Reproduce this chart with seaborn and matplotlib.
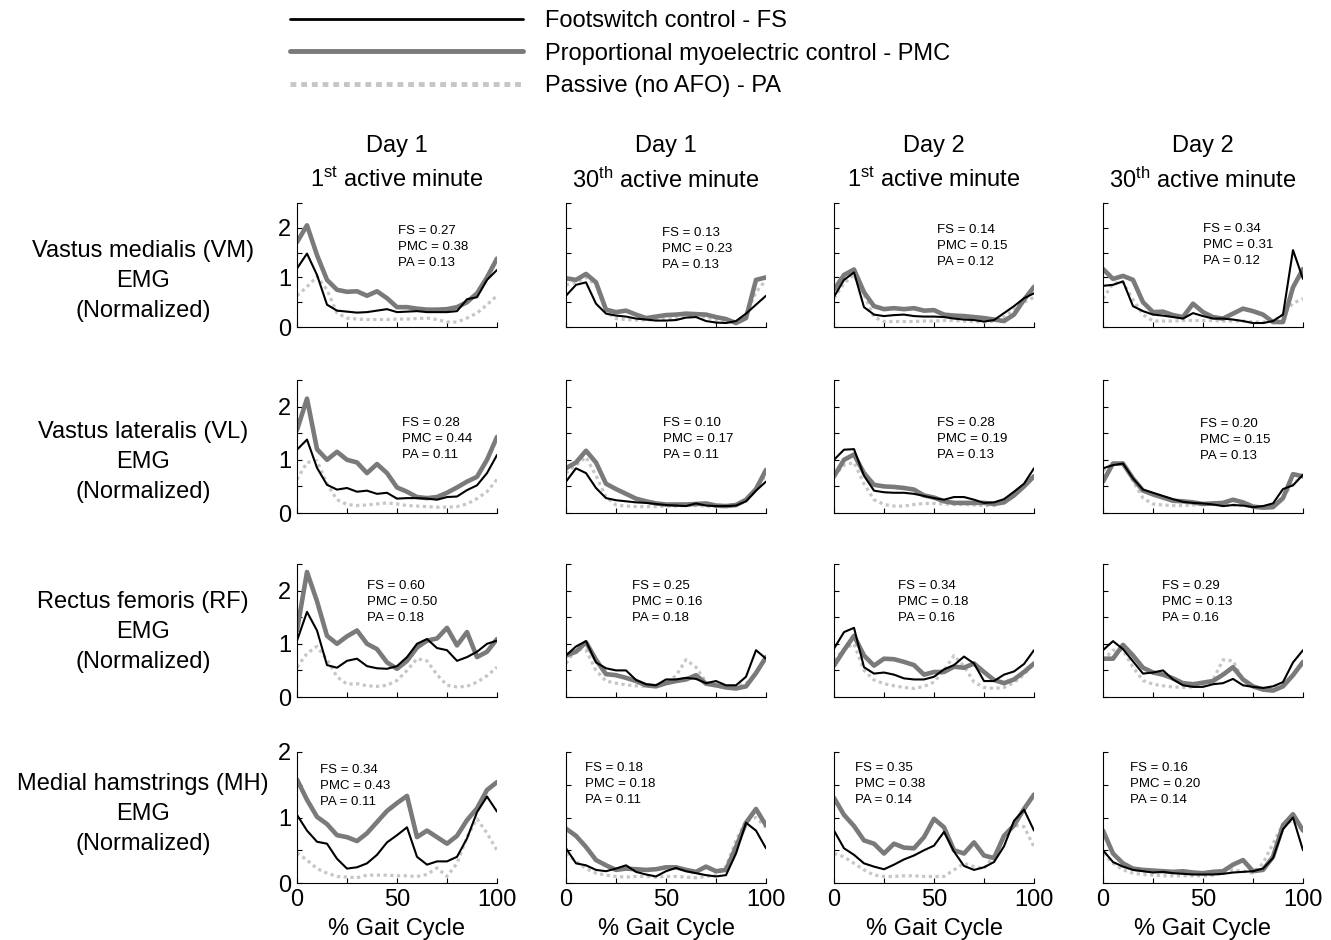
import numpy as np
import pandas as pd
import matplotlib
matplotlib.use('Agg')
import matplotlib.pyplot as plt
import seaborn as sns
from matplotlib.lines import Line2D
from matplotlib.transforms import offset_copy

sns.set_style('ticks')
plt.rcParams['font.family'] = ['Liberation Sans', 'DejaVu Sans']
plt.rcParams['mathtext.default'] = 'regular'
plt.rcParams['text.color'] = 'black'
plt.rcParams['axes.labelcolor'] = 'black'
plt.rcParams['xtick.color'] = 'black'
plt.rcParams['ytick.color'] = 'black'
plt.rcParams['axes.edgecolor'] = 'black'

# % gait cycle sample points
gait = list(range(0, 101, 5))

muscles = ['Vastus medialis (VM)', 'Vastus lateralis (VL)',
           'Rectus femoris (RF)', 'Medial hamstrings (MH)']
days = ['Day 1', 'Day 1', 'Day 2', 'Day 2']
minutes = ['1$^{st}$ active minute', '30$^{th}$ active minute',
           '1$^{st}$ active minute', '30$^{th}$ active minute']
legend_labels = ['Footswitch control - FS',
                 'Proportional myoelectric control - PMC',
                 'Passive (no AFO) - PA']

# normalized EMG, one list per session (D1 m1, D1 m30, D2 m1, D2 m30)
vm_fs = [
    [1.18, 1.48, 1.05, 0.45, 0.33, 0.31, 0.29, 0.30, 0.33, 0.36, 0.30, 0.31, 0.32, 0.30, 0.30, 0.30, 0.32, 0.56, 0.60, 0.95, 1.15],
    [0.63, 0.85, 0.90, 0.47, 0.27, 0.23, 0.21, 0.17, 0.15, 0.13, 0.13, 0.14, 0.19, 0.20, 0.12, 0.09, 0.08, 0.12, 0.27, 0.45, 0.63],
    [0.61, 0.95, 1.10, 0.40, 0.25, 0.22, 0.24, 0.25, 0.22, 0.21, 0.21, 0.20, 0.17, 0.15, 0.14, 0.11, 0.14, 0.28, 0.42, 0.58, 0.68],
    [0.83, 0.85, 0.92, 0.42, 0.32, 0.25, 0.23, 0.20, 0.17, 0.28, 0.22, 0.17, 0.17, 0.15, 0.12, 0.08, 0.08, 0.12, 0.25, 1.55, 0.97],
]
vm_pmc = [
    [1.71, 2.05, 1.45, 0.95, 0.75, 0.71, 0.72, 0.63, 0.72, 0.58, 0.40, 0.40, 0.37, 0.35, 0.35, 0.36, 0.40, 0.50, 0.68, 1.00, 1.38],
    [0.98, 0.95, 1.07, 0.90, 0.35, 0.30, 0.33, 0.25, 0.18, 0.21, 0.24, 0.25, 0.27, 0.26, 0.25, 0.20, 0.16, 0.08, 0.18, 0.95, 1.00],
    [0.75, 1.05, 1.16, 0.70, 0.42, 0.36, 0.38, 0.36, 0.38, 0.33, 0.34, 0.25, 0.23, 0.22, 0.20, 0.18, 0.15, 0.12, 0.25, 0.55, 0.81],
    [1.17, 0.97, 1.03, 0.95, 0.50, 0.30, 0.31, 0.24, 0.20, 0.47, 0.30, 0.20, 0.17, 0.27, 0.37, 0.32, 0.25, 0.10, 0.10, 0.80, 1.17],
]
vm_pa = [
    [0.63, 0.81, 1.02, 0.75, 0.28, 0.18, 0.16, 0.15, 0.15, 0.15, 0.16, 0.16, 0.17, 0.18, 0.15, 0.10, 0.10, 0.18, 0.28, 0.45, 0.63],
    [0.85, 0.90, 1.00, 0.85, 0.30, 0.17, 0.15, 0.14, 0.14, 0.15, 0.16, 0.17, 0.20, 0.22, 0.20, 0.15, 0.10, 0.10, 0.25, 0.70, 0.95],
    [0.58, 0.88, 1.05, 0.65, 0.20, 0.11, 0.11, 0.11, 0.11, 0.12, 0.12, 0.13, 0.13, 0.12, 0.11, 0.10, 0.12, 0.20, 0.35, 0.50, 0.60],
    [0.57, 0.88, 0.90, 0.55, 0.25, 0.12, 0.12, 0.12, 0.13, 0.13, 0.13, 0.13, 0.12, 0.12, 0.12, 0.10, 0.10, 0.12, 0.25, 0.48, 0.57],
]

vl_fs = [
    [1.19, 1.38, 0.85, 0.53, 0.44, 0.47, 0.40, 0.42, 0.36, 0.38, 0.27, 0.28, 0.28, 0.27, 0.25, 0.30, 0.31, 0.43, 0.52, 0.75, 1.09],
    [0.59, 0.84, 0.75, 0.47, 0.28, 0.24, 0.22, 0.20, 0.19, 0.17, 0.15, 0.14, 0.13, 0.18, 0.14, 0.13, 0.13, 0.14, 0.22, 0.42, 0.59],
    [1.00, 1.19, 1.20, 0.70, 0.42, 0.39, 0.38, 0.38, 0.36, 0.32, 0.28, 0.25, 0.30, 0.30, 0.25, 0.19, 0.20, 0.26, 0.40, 0.55, 0.84],
    [0.84, 0.90, 0.93, 0.65, 0.44, 0.38, 0.32, 0.26, 0.21, 0.19, 0.18, 0.16, 0.13, 0.15, 0.14, 0.11, 0.13, 0.18, 0.45, 0.52, 0.72],
]
vl_pmc = [
    [1.56, 2.15, 1.20, 1.00, 1.15, 1.00, 0.95, 0.75, 0.92, 0.75, 0.48, 0.40, 0.30, 0.28, 0.30, 0.38, 0.48, 0.59, 0.68, 1.00, 1.43],
    [0.84, 0.95, 1.17, 0.95, 0.55, 0.45, 0.36, 0.27, 0.22, 0.18, 0.16, 0.16, 0.16, 0.17, 0.18, 0.14, 0.13, 0.15, 0.25, 0.45, 0.81],
    [0.69, 1.00, 1.10, 0.75, 0.53, 0.50, 0.49, 0.47, 0.44, 0.33, 0.29, 0.22, 0.19, 0.19, 0.19, 0.19, 0.17, 0.20, 0.33, 0.50, 0.69],
    [0.59, 0.93, 0.93, 0.65, 0.42, 0.35, 0.29, 0.23, 0.22, 0.20, 0.17, 0.18, 0.19, 0.25, 0.20, 0.12, 0.10, 0.11, 0.28, 0.73, 0.69],
]
vl_pa = [
    [0.63, 0.95, 0.98, 0.55, 0.25, 0.16, 0.14, 0.15, 0.17, 0.19, 0.17, 0.14, 0.13, 0.12, 0.11, 0.11, 0.12, 0.17, 0.27, 0.40, 0.63],
    [0.75, 0.90, 1.05, 0.70, 0.30, 0.15, 0.13, 0.12, 0.12, 0.12, 0.13, 0.13, 0.14, 0.14, 0.13, 0.12, 0.12, 0.14, 0.22, 0.45, 0.72],
    [0.69, 0.90, 0.95, 0.55, 0.25, 0.16, 0.13, 0.13, 0.16, 0.18, 0.18, 0.17, 0.16, 0.16, 0.15, 0.14, 0.14, 0.20, 0.35, 0.55, 0.70],
    [0.80, 0.93, 0.95, 0.60, 0.28, 0.17, 0.15, 0.14, 0.14, 0.15, 0.16, 0.16, 0.15, 0.15, 0.14, 0.12, 0.12, 0.15, 0.30, 0.55, 0.70],
]

rf_fs = [
    [1.06, 1.60, 1.25, 0.60, 0.55, 0.68, 0.72, 0.58, 0.54, 0.53, 0.58, 0.75, 1.00, 1.09, 0.92, 0.88, 0.68, 0.75, 0.85, 1.00, 1.06],
    [0.78, 0.95, 1.05, 0.65, 0.54, 0.50, 0.50, 0.32, 0.24, 0.22, 0.33, 0.33, 0.36, 0.34, 0.26, 0.30, 0.22, 0.22, 0.38, 0.88, 0.72],
    [0.91, 1.22, 1.30, 0.56, 0.44, 0.46, 0.42, 0.35, 0.33, 0.33, 0.38, 0.52, 0.60, 0.76, 0.63, 0.30, 0.30, 0.42, 0.48, 0.62, 0.88],
    [0.88, 1.05, 0.90, 0.67, 0.44, 0.46, 0.50, 0.33, 0.22, 0.19, 0.19, 0.24, 0.26, 0.34, 0.22, 0.19, 0.17, 0.20, 0.28, 0.65, 0.88],
]
rf_pmc = [
    [1.25, 2.35, 1.80, 1.15, 1.00, 1.14, 1.25, 1.00, 0.90, 0.65, 0.53, 0.68, 0.93, 1.06, 1.10, 1.30, 0.97, 1.22, 0.75, 0.85, 1.09],
    [0.78, 0.85, 1.03, 0.70, 0.43, 0.41, 0.36, 0.30, 0.22, 0.20, 0.26, 0.30, 0.33, 0.41, 0.25, 0.22, 0.18, 0.16, 0.20, 0.45, 0.75],
    [0.59, 0.88, 1.15, 0.78, 0.59, 0.72, 0.71, 0.66, 0.60, 0.42, 0.47, 0.47, 0.57, 0.55, 0.63, 0.47, 0.32, 0.26, 0.33, 0.47, 0.63],
    [0.72, 0.72, 0.98, 0.78, 0.55, 0.46, 0.42, 0.35, 0.26, 0.24, 0.27, 0.30, 0.42, 0.56, 0.33, 0.20, 0.14, 0.12, 0.20, 0.41, 0.66],
]
rf_pa = [
    [0.56, 0.82, 0.95, 0.70, 0.38, 0.24, 0.25, 0.21, 0.20, 0.22, 0.31, 0.50, 0.72, 0.68, 0.42, 0.22, 0.19, 0.20, 0.28, 0.40, 0.56],
    [0.63, 0.90, 0.88, 0.50, 0.30, 0.26, 0.23, 0.21, 0.20, 0.22, 0.26, 0.40, 0.70, 0.56, 0.28, 0.20, 0.19, 0.20, 0.25, 0.44, 0.72],
    [0.69, 0.90, 1.00, 0.50, 0.32, 0.25, 0.21, 0.18, 0.16, 0.20, 0.28, 0.50, 0.78, 0.58, 0.28, 0.18, 0.16, 0.18, 0.27, 0.42, 0.63],
    [0.69, 0.88, 0.88, 0.56, 0.31, 0.24, 0.21, 0.19, 0.18, 0.19, 0.22, 0.32, 0.70, 0.68, 0.32, 0.19, 0.16, 0.17, 0.25, 0.42, 0.63],
]

mh_fs = [
    [1.04, 0.80, 0.63, 0.60, 0.37, 0.22, 0.24, 0.30, 0.43, 0.62, 0.73, 0.85, 0.40, 0.28, 0.33, 0.33, 0.40, 0.68, 1.08, 1.32, 1.09],
    [0.53, 0.30, 0.27, 0.20, 0.18, 0.22, 0.27, 0.17, 0.13, 0.10, 0.18, 0.23, 0.18, 0.15, 0.12, 0.10, 0.12, 0.45, 0.92, 0.80, 0.53],
    [0.80, 0.53, 0.43, 0.30, 0.25, 0.21, 0.28, 0.36, 0.42, 0.50, 0.57, 0.78, 0.48, 0.26, 0.20, 0.24, 0.32, 0.56, 0.95, 1.12, 0.80],
    [0.50, 0.32, 0.25, 0.20, 0.18, 0.16, 0.17, 0.15, 0.14, 0.13, 0.13, 0.13, 0.14, 0.16, 0.17, 0.18, 0.22, 0.38, 0.82, 1.00, 0.50],
]
mh_pmc = [
    [1.58, 1.27, 1.01, 0.90, 0.73, 0.70, 0.64, 0.76, 0.93, 1.10, 1.22, 1.33, 0.70, 0.80, 0.70, 0.60, 0.72, 0.96, 1.14, 1.42, 1.54],
    [0.83, 0.72, 0.55, 0.35, 0.27, 0.20, 0.22, 0.21, 0.20, 0.21, 0.24, 0.24, 0.20, 0.17, 0.25, 0.18, 0.20, 0.55, 0.92, 1.13, 0.88],
    [1.30, 1.04, 0.87, 0.65, 0.60, 0.45, 0.60, 0.54, 0.53, 0.70, 0.98, 0.85, 0.50, 0.45, 0.62, 0.42, 0.38, 0.72, 0.88, 1.13, 1.35],
    [0.80, 0.45, 0.30, 0.22, 0.20, 0.19, 0.18, 0.17, 0.18, 0.16, 0.15, 0.17, 0.18, 0.28, 0.35, 0.18, 0.20, 0.40, 0.88, 1.05, 0.80],
]
mh_pa = [
    [0.46, 0.35, 0.22, 0.15, 0.10, 0.09, 0.08, 0.12, 0.12, 0.12, 0.11, 0.11, 0.10, 0.13, 0.23, 0.10, 0.30, 0.70, 0.98, 0.76, 0.50],
    [0.45, 0.33, 0.22, 0.15, 0.12, 0.10, 0.09, 0.10, 0.10, 0.09, 0.10, 0.10, 0.09, 0.08, 0.10, 0.12, 0.25, 0.65, 0.95, 1.00, 0.85],
    [0.45, 0.40, 0.30, 0.20, 0.12, 0.10, 0.10, 0.11, 0.11, 0.10, 0.10, 0.10, 0.20, 0.30, 0.25, 0.22, 0.42, 0.68, 0.88, 0.86, 0.55],
    [0.45, 0.30, 0.20, 0.15, 0.13, 0.12, 0.11, 0.11, 0.11, 0.11, 0.11, 0.12, 0.15, 0.20, 0.18, 0.15, 0.30, 0.60, 0.90, 0.95, 0.80],
]

# correlation values printed in each panel (FS, PMC, PA)
vm_r = [(0.27, 0.38, 0.13), (0.13, 0.23, 0.13), (0.14, 0.15, 0.12), (0.34, 0.31, 0.12)]
vl_r = [(0.28, 0.44, 0.11), (0.10, 0.17, 0.11), (0.28, 0.19, 0.13), (0.20, 0.15, 0.13)]
rf_r = [(0.60, 0.50, 0.18), (0.25, 0.16, 0.18), (0.34, 0.18, 0.16), (0.29, 0.13, 0.16)]
mh_r = [(0.34, 0.43, 0.11), (0.18, 0.18, 0.11), (0.35, 0.38, 0.14), (0.16, 0.20, 0.14)]

fs_all = [vm_fs, vl_fs, rf_fs, mh_fs]
pmc_all = [vm_pmc, vl_pmc, rf_pmc, mh_pmc]
pa_all = [vm_pa, vl_pa, rf_pa, mh_pa]
r_all = [vm_r, vl_r, rf_r, mh_r]

# where the first line of each r-value block sits (data coords)
ann_pos = [
    [(50.6, 1.95), (48, 1.91), (51.5, 1.97), (50, 2.0)],
    [(52.6, 1.71), (48.6, 1.71), (51.5, 1.71), (48.6, 1.69)],
    [(35, 2.1), (33, 2.1), (32, 2.1), (29.6, 2.1)],
    [(11.6, 1.74), (9.6, 1.77), (10.5, 1.77), (13.6, 1.77)],
]

FS_COLOR, PMC_COLOR, PA_COLOR = 'black', '#7a7a7a', '#c6c6c6'
FS_LW, PMC_LW, PA_LW = 1.5, 3.3, 2.3
PA_STYLE = (0, (1.0, 1.1))
FONT = 17

W, H = 1331, 940
fig = plt.figure(figsize=(W / 100, H / 100), dpi=100)

col_left = [297, 566, 834, 1103]
row_span = [(203, 327), (380, 513), (564, 697), (752, 883)]
row_label_y = [281, 462, 632, 814]

for i in range(4):
    top, bot = row_span[i]
    ymax = 2.0 if i == 3 else 2.5
    for j in range(4):
        ax = fig.add_axes([col_left[j] / W, 1 - bot / H, 200 / W, (bot - top) / H])
        df = pd.DataFrame({'gait': gait, 'FS': fs_all[i][j],
                           'PMC': pmc_all[i][j], 'PA': pa_all[i][j]})
        sns.lineplot(data=df, x='gait', y='PA', ax=ax, color=PA_COLOR,
                     lw=PA_LW, linestyle=PA_STYLE)
        sns.lineplot(data=df, x='gait', y='PMC', ax=ax, color=PMC_COLOR, lw=PMC_LW)
        sns.lineplot(data=df, x='gait', y='FS', ax=ax, color=FS_COLOR, lw=FS_LW)

        ax.set_xlim(0, 100)
        ax.set_ylim(0, ymax)
        ax.set_xticks([0, 25, 50, 75, 100])
        yt = np.arange(0, ymax + 0.01, 0.5)
        ax.set_yticks(yt)
        if i == 3:
            ax.set_xticklabels(['0', '', '50', '', '100'])
            ax.set_xlabel('% Gait Cycle', fontsize=FONT, labelpad=5)
        else:
            ax.set_xticklabels([])
            ax.set_xlabel('')
        if j == 0:
            ax.set_yticklabels([('%d' % v) if v % 1 == 0 else '' for v in yt])
        else:
            ax.set_yticklabels([])
        ax.set_ylabel('')
        sns.despine(ax=ax)
        for s in ['left', 'bottom']:
            ax.spines[s].set_linewidth(0.8)
        ax.tick_params(direction='in', length=3.5, width=0.8, labelsize=FONT, pad=4)

        fs_r, pmc_r, pa_r = r_all[i][j]
        txt = 'FS = %.2f\nPMC = %.2f\nPA = %.2f' % (fs_r, pmc_r, pa_r)
        tr = offset_copy(ax.transData, fig=fig, x=0, y=-12.2, units='points')
        ax.text(ann_pos[i][j][0], ann_pos[i][j][1], txt, transform=tr,
                fontsize=9.5, ha='left', va='center', linespacing=1.45)

    fig.text(143 / W, 1 - row_label_y[i] / H,
             muscles[i] + '\nEMG\n(Normalized)', ha='center', va='center',
             fontsize=FONT, linespacing=1.47)

for j in range(4):
    cx = (col_left[j] + 100) / W
    fig.text(cx, 1 - 146 / H, days[j], ha='center', va='center', fontsize=FONT)
    fig.text(cx, 1 - 180 / H, minutes[j], ha='center', va='center', fontsize=FONT)

handles = [Line2D([], [], color=FS_COLOR, lw=2.0),
           Line2D([], [], color=PMC_COLOR, lw=3.5),
           Line2D([], [], color=PA_COLOR, lw=3.5, linestyle=(0, (1.2, 1.0)))]
fig.legend(handles, legend_labels, loc='upper left',
           bbox_to_anchor=(290 / W, 1 - 10 / H), frameon=False, fontsize=FONT,
           handlelength=9.85, handletextpad=0.95, labelspacing=0.45,
           borderpad=0, borderaxespad=0)

fig.savefig('out.png', dpi=100)
